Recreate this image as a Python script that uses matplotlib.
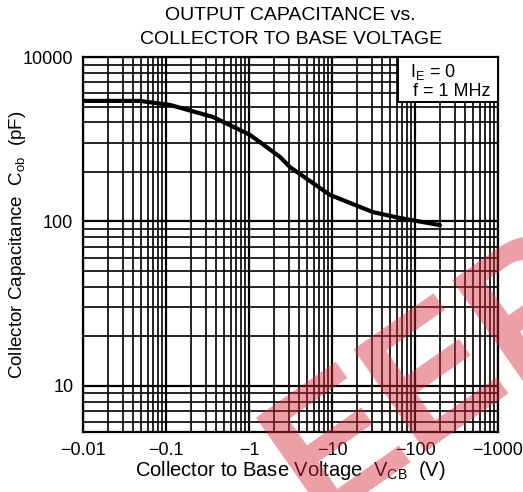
import matplotlib
matplotlib.use("Agg")
import matplotlib.pyplot as plt
from matplotlib.patches import Rectangle
from matplotlib.ticker import LogLocator, NullFormatter

plt.rcParams["font.family"] = ["Liberation Sans", "DejaVu Sans"]
plt.rcParams["mathtext.default"] = "regular"

# |V_CB| in volts and C_ob in pF
vcb = [0.01, 0.0486, 0.112, 0.368, 1.03, 2.36, 3.12, 9.46, 31.2, 65.9, 200]
cob = [541, 541, 511, 432, 336, 247, 214, 145, 114, 105, 95]

xticks = [0.01, 0.1, 1, 10, 100, 1000]
xlabels = ["\u22120.01", "\u22120.1", "\u22121", "\u221210", "\u2212100", "\u22121000"]
yticks = [10, 100, 1000]
ylabels = ["10", "100", "10000"]

fig = plt.figure(figsize=(5.23, 4.92), dpi=100)
ax = fig.add_axes([83 / 523, 1 - 432 / 492, 415 / 523, 375 / 492])

ax.set_xscale("log")
ax.set_yscale("log")
ax.set_xlim(0.01, 1000)
ax.set_ylim(5.25, 1000)

ax.xaxis.set_minor_locator(LogLocator(base=10, subs=range(2, 10)))
ax.yaxis.set_minor_locator(LogLocator(base=10, subs=range(2, 10)))
ax.xaxis.set_minor_formatter(NullFormatter())
ax.yaxis.set_minor_formatter(NullFormatter())
ax.set_xticks(xticks, xlabels)
ax.set_yticks(yticks, ylabels)
ax.tick_params(which="both", length=0, labelsize=13, pad=7)

ax.grid(which="major", color="black", lw=1.6)
ax.grid(which="minor", color="black", lw=1.2)
for s in ax.spines.values():
    s.set_linewidth(1.6)

ax.plot(vcb, cob, color="black", lw=3, solid_capstyle="round")

# condition box in the top right corner
ax.add_patch(Rectangle((0.759, 0.88), 0.241, 0.12, transform=ax.transAxes,
                       fc="white", ec="black", lw=1.4, zorder=5))
ax.text(0.788, 0.96, "I$_E$ = 0", transform=ax.transAxes, ha="left",
        va="center", fontsize=13, zorder=6)
ax.text(0.795, 0.907, "f = 1 MHz", transform=ax.transAxes, ha="left",
        va="center", fontsize=13, zorder=6)

fig.text(0.556, 1 - 16 / 492, "OUTPUT CAPACITANCE vs.",
         ha="center", va="center", fontsize=14)
fig.text(0.556, 1 - 39 / 492, "COLLECTOR TO BASE VOLTAGE",
         ha="center", va="center", fontsize=14)
fig.text(0.556, 1 - 471 / 492, "Collector to Base Voltage  V$_{CB}$  (V)",
         ha="center", va="center", fontsize=14.5)
fig.text(18 / 523, 1 - 245 / 492, "Collector Capacitance  C$_{ob}$  (pF)",
         ha="center", va="center", rotation=90, fontsize=13.5)

# watermark
fig.text(0.46, -0.12, "EEPW", fontsize=130, fontweight="bold", color="#d62a3a",
         alpha=0.45, rotation=35, ha="left", va="bottom")

fig.savefig("out.png", dpi=100)
plt.close(fig)
